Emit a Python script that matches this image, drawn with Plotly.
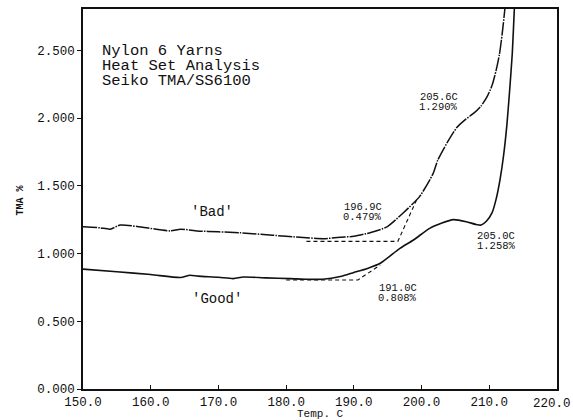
import plotly.graph_objects as go

# Data
bad_x = [150.0, 152.5, 154.0, 155.5, 158.0, 162.9, 164.4, 166.9, 170.0, 173.2, 178.0, 182.0,
         185.5, 188.0, 190.0, 192.5, 194.9, 197.2, 199.7, 201.7, 202.4, 203.8, 205.2, 206.5,
         207.8, 208.8, 209.7, 210.4, 211.0, 211.5, 211.9, 212.3, 212.45]
bad_y = [1.197, 1.19, 1.18, 1.21, 1.20, 1.167, 1.18, 1.167, 1.16, 1.153, 1.135, 1.12,
         1.11, 1.12, 1.127, 1.155, 1.197, 1.296, 1.42, 1.59, 1.69, 1.82, 1.93, 1.99,
         2.04, 2.09, 2.16, 2.24, 2.35, 2.47, 2.62, 2.805, 2.9]

good_x = [150.0, 155.0, 160.0, 164.4, 165.8, 167.0, 170.0, 172.2, 173.7, 177.0, 180.6, 183.0,
          185.4, 188.0, 190.0, 192.0, 193.9, 196.8, 198.8, 201.2, 203.0, 204.7, 206.6, 208.0,
          208.8, 209.6, 210.4, 211.0, 211.6, 212.1, 212.6, 213.0, 213.4, 213.7, 213.8]
good_y = [0.885, 0.865, 0.845, 0.823, 0.84, 0.833, 0.825, 0.815, 0.827, 0.82, 0.815, 0.81,
          0.81, 0.83, 0.86, 0.89, 0.928, 1.038, 1.10, 1.186, 1.225, 1.25, 1.235, 1.215,
          1.21, 1.24, 1.30, 1.40, 1.55, 1.72, 1.95, 2.20, 2.48, 2.805, 2.9]

bad_tan_x = [183.0, 196.5, 199.3]
bad_tan_y = [1.09, 1.09, 1.40]
good_tan_x = [180.0, 190.6, 193.9]
good_tan_y = [0.805, 0.805, 0.915]

x_ticks = [150, 160, 170, 180, 190, 200, 210, 220]
y_ticks = [0.0, 0.5, 1.0, 1.5, 2.0, 2.5]

# Point annotations: (x, y of first line, temperature text, percent text)
point_labels = [
    (202.55, 2.155, "205.6C", "1.290%"),
    (191.3, 1.343, "196.9C", "0.479%"),
    (211.05, 1.132, "205.0C", "1.258%"),
    (196.5, 0.743, "191.0C", "0.808%"),
]
curve_names = [(169.0, 1.308, "'Bad'"), (169.85, 0.664, "'Good'")]
title_lines = ["Nylon 6 Yarns", "Heat Set Analysis", "Seiko TMA/SS6100"]
x_title = "Temp. C"
y_title = "TMA %"

INK = "#111111"
MONO = "Liberation Mono, DejaVu Sans Mono, monospace"

fig = go.Figure()
fig.add_trace(go.Scatter(x=bad_tan_x, y=bad_tan_y, mode="lines",
                         line=dict(color=INK, width=1.1, dash="4px,3px"), showlegend=False))
fig.add_trace(go.Scatter(x=good_tan_x, y=good_tan_y, mode="lines",
                         line=dict(color=INK, width=1.1, dash="4px,3px"), showlegend=False))
fig.add_trace(go.Scatter(x=bad_x, y=bad_y, mode="lines", line_shape="spline",
                         line=dict(color=INK, width=1.5, smoothing=0.6,
                                   dash="14px,1.2px,1.5px,1.2px"),
                         showlegend=False))
fig.add_trace(go.Scatter(x=good_x, y=good_y, mode="lines", line_shape="spline",
                         line=dict(color=INK, width=1.6, smoothing=0.6), showlegend=False))

annotations = []
for i, t in enumerate(title_lines):
    annotations.append(dict(x=152.45, y=2.493 - i * 0.111, text=t, showarrow=False,
                            xanchor="left", yanchor="middle",
                            font=dict(family=MONO, size=15.5, color=INK)))
for x, y, t1, t2 in point_labels:
    for j, t in enumerate((t1, t2)):
        annotations.append(dict(x=x, y=y - j * 0.074, text=t, showarrow=False,
                                xanchor="center", yanchor="middle",
                                font=dict(family=MONO, size=10.5, color=INK)))
for x, y, t in curve_names:
    annotations.append(dict(x=x, y=y, text=t, showarrow=False, xanchor="center",
                            yanchor="middle", font=dict(family=MONO, size=14, color=INK)))
# last x tick label (plotly drops it because it overflows the page edge)
annotations.append(dict(x=x_ticks[-1], y=0, yref="y", text=f"{x_ticks[-1]:.1f}",
                        showarrow=False, xanchor="right", yanchor="top",
                        xshift=15.5, yshift=-6, font=dict(family=MONO, size=12.5, color=INK)))
# axis titles
annotations.append(dict(x=0.5, xref="paper", y=-0.066, yref="paper", text=x_title,
                        showarrow=False, xanchor="center", yanchor="middle",
                        font=dict(family=MONO, size=11, color=INK)))
annotations.append(dict(x=-0.132, xref="paper", y=0.497, yref="paper",
                        text="<b>" + y_title + "</b>", textangle=-90,
                        showarrow=False, xanchor="center", yanchor="middle",
                        font=dict(family=MONO, size=10, color=INK)))

fig.update_layout(
    width=573, height=420,
    margin=dict(l=83, r=15.5, t=9, b=31),
    paper_bgcolor="white", plot_bgcolor="white",
    annotations=annotations,
    xaxis=dict(range=[150, 220], tickvals=x_ticks, tickformat=".1f", automargin=False,
               ticks="inside", ticklen=4, tickcolor=INK, showgrid=False, zeroline=False,
               showline=True, mirror=True, linecolor=INK, linewidth=1.6,
               tickfont=dict(family=MONO, size=12.5, color=INK)),
    yaxis=dict(range=[0, 2.805], tickvals=y_ticks, tickformat=".3f", automargin=False,
               ticks="outside", ticklen=4, tickcolor=INK, showgrid=False, zeroline=False,
               showline=True, mirror=True, linecolor=INK, linewidth=1.6,
               tickfont=dict(family=MONO, size=12.5, color=INK)),
)

fig.write_html("out.html")
